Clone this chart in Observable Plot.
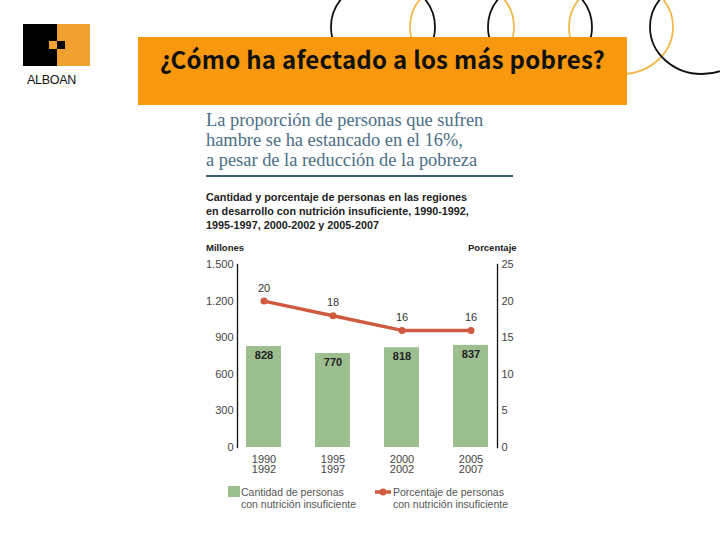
<!DOCTYPE html>
<html>
<head>
<meta charset="utf-8">
<script src="https://cdn.jsdelivr.net/npm/d3@7"></script>
<script src="https://cdn.jsdelivr.net/npm/@observablehq/plot@0.6"></script>
<style>
  html, body { margin: 0; padding: 0; background: #fff; }
  #page { position: relative; width: 720px; height: 540px; overflow: hidden; background: #fff; font-family: "Liberation Sans", Arial, sans-serif; }
  .abs { position: absolute; }
  #deco { position: absolute; left: 0; top: 0; }
  #banner { left: 138px; top: 37px; width: 489px; height: 68px; background: #f7980f; }
  #title { left: 160px; top: 43px; font-family: "Noto Sans CJK JP", sans-serif; font-weight: 700; font-size: 24px; letter-spacing: 0.25px; color: #111; white-space: nowrap; line-height: 32px; }
  #logo-black { left: 23px; top: 24px; width: 34px; height: 42px; background: #000; }
  #logo-orange { left: 57px; top: 24px; width: 33px; height: 42px; background: #f0a030; }
  #logo-sq1 { left: 49px; top: 41px; width: 8px; height: 8px; background: #f0a030; }
  #logo-sq2 { left: 57px; top: 41px; width: 8px; height: 8px; background: #000; }
  #logo-text { left: 27px; top: 73px; font-size: 12.5px; color: #111; letter-spacing: -0.3px; }
  #chartbox { left: 195px; top: 105px; width: 330px; height: 404px; overflow: hidden; background: #fff; }
  #heading { left: 11px; top: 5px; font-family: "Liberation Serif", "Times New Roman", serif; font-size: 18.4px; line-height: 20px; color: #4b6e86; white-space: nowrap; }
  #rule { left: 11px; top: 70px; width: 307px; height: 1.5px; background: #3d6079; }
  #sub { left: 11px; top: 85px; font-size: 10.8px; font-weight: bold; line-height: 14px; color: #222; white-space: nowrap; }
  #millones { left: 11px; top: 137px; font-size: 9.5px; font-weight: bold; color: #222; }
  #porcentaje { left: 273px; top: 137px; font-size: 9.5px; font-weight: bold; color: #222; }
  #plot { left: 0px; top: 135px; }
  .leg { font-size: 10.5px; color: #555; line-height: 12px; white-space: nowrap; }
</style>
</head>
<body>
<div id="page">
  <svg id="deco" width="720" height="110"></svg>
  <div class="abs" id="banner"></div>
  <div class="abs" id="title">¿Cómo ha afectado a los más pobres?</div>
  <div class="abs" id="logo-black"></div>
  <div class="abs" id="logo-orange"></div>
  <div class="abs" id="logo-sq1"></div>
  <div class="abs" id="logo-sq2"></div>
  <div class="abs" id="logo-text">ALBOAN</div>
  <div class="abs" id="chartbox">
    <div class="abs" id="heading">La proporción de personas que sufren<br>hambre se ha estancado en el 16%,<br>a pesar de la reducción de la pobreza</div>
    <div class="abs" id="rule"></div>
    <div class="abs" id="sub">Cantidad y porcentaje de personas en las regiones<br>en desarrollo con nutrición insuficiente, 1990-1992,<br>1995-1997, 2000-2002 y 2005-2007</div>
    <div class="abs" id="millones">Millones</div>
    <div class="abs" id="porcentaje">Porcentaje</div>
    <div class="abs" id="plot"></div>
    <div class="abs" style="left:33px; top:381px; width:12px; height:11px; background:#9dbf8f;"></div>
    <div class="abs leg" style="left:46px; top:381px;">Cantidad de personas<br>con nutrición insuficiente</div>
    <svg class="abs" style="left:178px; top:381px;" width="20" height="12">
      <line x1="2" y1="6" x2="18" y2="6" stroke="#d05a40" stroke-width="3.5"/>
      <circle cx="10" cy="6" r="3.5" fill="#d05a40"/>
    </svg>
    <div class="abs leg" style="left:198px; top:381px;">Porcentaje de personas<br>con nutrición insuficiente</div>
  </div>
</div>
<script>
// Data
const periods = ["1990-1992", "1995-1997", "2000-2002", "2005-2007"];
const millions = [828, 770, 818, 837];
const percent = [20, 18, 16, 16];
const leftTicks = [0, 300, 600, 900, 1200, 1500];
const rightTicks = [0, 5, 10, 15, 20, 25];

const k = leftTicks[leftTicks.length - 1] / rightTicks[rightTicks.length - 1];
const rows = periods.map((p, i) => ({ period: p, millions: millions[i], percent: percent[i] }));

const green = "#9dbf8f";
const red = "#d05a40";

const chart = Plot.plot({
  width: 330,
  height: 272,
  marginLeft: 42,
  marginRight: 28,
  marginTop: 24,
  marginBottom: 65,
  style: { fontFamily: "'Liberation Sans', Arial, sans-serif", fontSize: "11px", color: "#444", background: "transparent" },
  x: { domain: periods, paddingInner: 0.495, paddingOuter: 0.124, axis: null },
  y: { domain: [0, 1500], axis: null },
  marks: [
    Plot.barY(rows, { x: "period", y: "millions", fill: green }),
    Plot.text(rows, { x: "period", y: "millions", text: d => String(d.millions), dy: 9, fontWeight: "bold", fontSize: 11, fill: "#222" }),
    Plot.lineY(rows, { x: "period", y: d => d.percent * k, stroke: red, strokeWidth: 3.5 }),
    Plot.dot(rows, { x: "period", y: d => d.percent * k, r: 3.5, fill: red }),
    Plot.text(rows, { x: "period", y: d => d.percent * k, text: d => String(d.percent), dy: -13, fontSize: 11, fill: "#333" }),
    Plot.axisY({ ticks: leftTicks, tickSize: 0, tickPadding: 4, label: null, tickFormat: d => d3.format(",")(d).replace(",", ".") }),
    Plot.axisY({ anchor: "right", ticks: rightTicks.map(v => v * k), tickSize: 0, tickPadding: 4, label: null, tickFormat: d => String(d / k) }),
    Plot.axisX({ tickSize: 0, tickPadding: 8, label: null, lineHeight: 0.95, tickFormat: p => p.replace("-", "\n") }),
    Plot.frame({ anchor: "left", stroke: "#111", strokeWidth: 1.3 }),
    Plot.frame({ anchor: "right", stroke: "#111", strokeWidth: 1.3 })
  ]
});
document.getElementById("plot").appendChild(chart);

// Decorative ellipses (slide background)
const deco = d3.select("#deco");
const ex = [383, 462, 540, 621, 702];
ex.forEach((cx, i) => {
  deco.append("ellipse").attr("cx", cx).attr("cy", 27).attr("rx", 52).attr("ry", 47)
    .attr("fill", "none").attr("stroke", i % 2 === 0 ? "#111" : "#f0b84a").attr("stroke-width", 1.8);
});
</script>
</body>
</html>
